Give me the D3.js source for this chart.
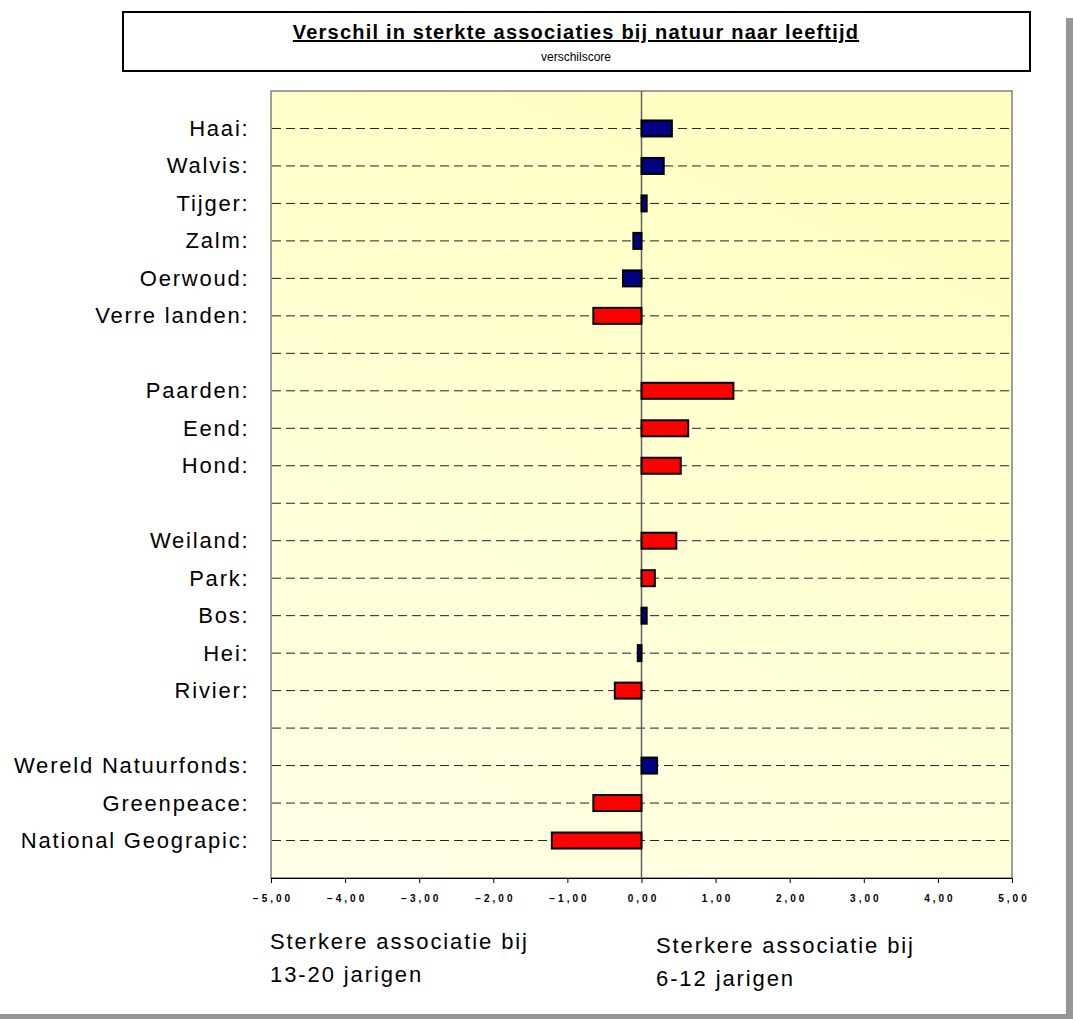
<!DOCTYPE html>
<html>
<head>
<meta charset="utf-8">
<script src="https://cdn.jsdelivr.net/npm/d3@7"></script>
<style>
  body { margin: 0; background: #fff; }
  svg { display: block; font-family: "Liberation Sans", Arial, sans-serif; }
</style>
</head>
<body>
<div id="chart"></div>
<script>
// categories (blank entries are empty rows between groups)
var categories = ["Haai", "Walvis", "Tijger", "Zalm", "Oerwoud", "Verre landen", "",
                  "Paarden", "Eend", "Hond", "",
                  "Weiland", "Park", "Bos", "Hei", "Rivier", "",
                  "Wereld Natuurfonds", "Greenpeace", "National Geograpic"];

// two series: blue and red (null = no bar)
var blueValues = [0.41, 0.30, 0.07, -0.11, -0.25, null, null,
                  null, null, null, null,
                  null, null, 0.07, -0.05, null, null,
                  0.21, null, null];
var redValues  = [null, null, null, null, null, -0.65, null,
                  1.24, 0.63, 0.53, null,
                  0.47, 0.18, null, null, -0.36, null,
                  null, -0.65, -1.21];

var xTicks = [-5, -4, -3, -2, -1, 0, 1, 2, 3, 4, 5];

var title = "Verschil in sterkte associaties bij natuur naar leeftijd";
var subtitle = "verschilscore";
var leftNote = ["Sterkere associatie bij", "13-20 jarigen"];
var rightNote = ["Sterkere associatie bij", "6-12 jarigen"];

function init() {
    var W = 1073, H = 1019;
    var plot = { left: 271, top: 91, right: 1012, bottom: 878 };

    var svg = d3.select("#chart").append("svg")
        .attr("width", W).attr("height", H);

    // shadow on right and bottom
    svg.append("rect").attr("x", 1066).attr("y", 18).attr("width", 7).attr("height", H - 18).attr("fill", "#969696");
    svg.append("rect").attr("x", 0).attr("y", 1014).attr("width", 1073).attr("height", 5).attr("fill", "#969696");

    // title box
    svg.append("rect").attr("x", 123).attr("y", 12).attr("width", 907).attr("height", 59)
       .attr("fill", "#fff").attr("stroke", "#000").attr("stroke-width", 2);
    svg.append("text").attr("x", 576).attr("y", 39).attr("text-anchor", "middle")
       .attr("font-size", 20).attr("font-weight", "bold").attr("text-decoration", "underline")
       .attr("letter-spacing", "1.2px")
       .text(title);
    svg.append("text").attr("x", 576).attr("y", 61).attr("text-anchor", "middle")
       .attr("font-size", 12).text(subtitle);

    // background gradient
    var defs = svg.append("defs");
    var grad = defs.append("linearGradient").attr("id", "bg")
        .attr("x1", "0%").attr("y1", "100%").attr("x2", "40%").attr("y2", "0%");
    grad.append("stop").attr("offset", "0%").attr("stop-color", "#ffffe8");
    grad.append("stop").attr("offset", "100%").attr("stop-color", "#ffffc4");

    svg.append("rect").attr("x", plot.left).attr("y", plot.top)
       .attr("width", plot.right - plot.left).attr("height", plot.bottom - plot.top)
       .attr("fill", "url(#bg)").attr("stroke", "#808080").attr("stroke-width", 1.5);

    var xScale = d3.scaleLinear().domain([-5, 5]).range([plot.left, plot.right]);
    var yScale = d3.scalePoint().domain(d3.range(categories.length))
        .range([plot.top, plot.bottom]).padding(1);
    var barH = 16;

    // dashed gridlines
    svg.append("g").selectAll("line")
       .data(categories)
       .enter().append("line")
       .attr("x1", plot.left + 1).attr("x2", plot.right - 1)
       .attr("y1", function(d, i) { return yScale(i); })
       .attr("y2", function(d, i) { return yScale(i); })
       .attr("stroke", "#222").attr("stroke-width", 1)
       .attr("stroke-dasharray", "9,5");

    // zero line
    svg.append("line").attr("x1", xScale(0)).attr("x2", xScale(0))
       .attr("y1", plot.top).attr("y2", plot.bottom)
       .attr("stroke", "#606060").attr("stroke-width", 1.5);

    function drawBars(values, color) {
        svg.append("g").selectAll("rect")
           .data(values.map(function(v, i) { return { v: v, i: i }; })
                       .filter(function(d) { return d.v !== null; }))
           .enter().append("rect")
           .attr("x", function(d) { return Math.min(xScale(0), xScale(d.v)); })
           .attr("y", function(d) { return yScale(d.i) - barH / 2; })
           .attr("width", function(d) { return Math.abs(xScale(d.v) - xScale(0)); })
           .attr("height", barH)
           .attr("fill", color)
           .attr("stroke", "#000").attr("stroke-width", 2);
    }
    drawBars(blueValues, "#000080");
    drawBars(redValues, "#ff0000");

    // category labels
    svg.append("g").selectAll("text")
       .data(categories)
       .enter().append("text")
       .filter(function(d) { return d !== ""; })
       .attr("x", 249.5)
       .attr("y", function(d) { return yScale(categories.indexOf(d)) + 7.5; })
       .attr("text-anchor", "end")
       .attr("font-size", 22)
       .attr("letter-spacing", "1.8px")
       .text(function(d) { return d + ":"; });

    // x axis
    var xAxis = d3.axisBottom(xScale).tickValues(xTicks).tickSize(5)
        .tickFormat(function(d) { return d3.format(".2f")(d).replace(".", ","); });
    var ax = svg.append("g").attr("transform", "translate(0," + plot.bottom + ")").call(xAxis);
    ax.select(".domain").attr("stroke", "#000").attr("stroke-width", 1);
    ax.selectAll(".tick line").attr("stroke", "#000");
    ax.selectAll(".tick text")
      .attr("y", 24).attr("dy", null).attr("dx", 1.5)
      .attr("font-family", "Liberation Sans, Arial, sans-serif")
      .attr("font-size", 10).attr("font-weight", "bold")
      .attr("letter-spacing", "3px").attr("fill", "#000");

    // side notes
    function note(lines, x, y) {
        var t = svg.append("text").attr("x", x).attr("y", y)
            .attr("font-size", 22).attr("letter-spacing", "1.9px");
        t.selectAll("tspan").data(lines).enter().append("tspan")
         .attr("x", x).attr("dy", function(d, i) { return i ? 33 : 0; })
         .text(function(d) { return d; });
    }
    note(leftNote, 270, 949);
    note(rightNote, 656, 953);
}

window.onload = init;
</script>
</body>
</html>
